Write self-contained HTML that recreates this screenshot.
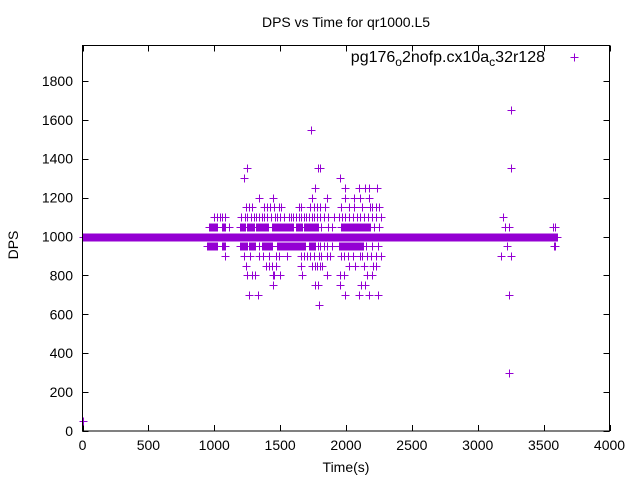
<!DOCTYPE html>
<html><head><meta charset="utf-8"><style>
body{margin:0;background:#fff}
svg{display:block;font-family:"Liberation Sans",sans-serif}
</style></head><body>
<svg id="chart" width="640" height="480" viewBox="0 0 640 480">
<rect x="0" y="0" width="640" height="480" fill="#fff"/>
<text x="346" y="27" font-size="14" text-anchor="middle">DPS vs Time for qr1000.L5</text>
<text x="346" y="472" font-size="14" text-anchor="middle">Time(s)</text>
<text transform="translate(18,245) rotate(-90)" font-size="14" text-anchor="middle">DPS</text>
<g id="axes"></g>
<g id="marks" stroke="#9400d3" stroke-width="1" fill="none"></g>
<g>
<text x="545" y="62" font-size="16" text-anchor="end">pg176<tspan font-size="12" dy="4">o</tspan><tspan dy="-4">2nofp.cx10a</tspan><tspan font-size="12" dy="4">c</tspan><tspan dy="-4">32r128</tspan></text>
<path d="M570.5 57.5h8M574.5 53.5v8" stroke="#9400d3"/>
</g>
<rect x="82.5" y="45.5" width="527" height="385.5" fill="none" stroke="#000"/>
</svg>
<script>
const xTicks=[0,500,1000,1500,2000,2500,3000,3500,4000];
const yTicks=[0,200,400,600,800,1000,1200,1400,1600,1800];
const bandValue=1000;
const bandRange=[0,3600];
const runs1050=[[959,1022],[1060,1085],[1199,1237],[1250,1300],[1320,1414],[1435,1604],[1618,1668],[1680,1794],[1960,2000],[2010,2186]];
const runs950=[[946,1022],[1060,1085],[1199,1250],[1262,1313],[1364,1440],[1477,1693],[1718,1768],[1946,2135],[3575,3590]];
const row1050=[1110,1810,1860,1895,2210,2250,3210,3240,3570,3590];
const row950=[1340,1720,1790,1800,1830,1855,1895,2150,2200,2240,3220];
const row1100=[995,1020,1040,1060,1085,1200,1230,1250,1280,1300,1320,1340,1360,1380,1400,1430,1460,1480,1500,1528,1566,1580,1600,1620,1640,1660,1680,1700,1720,1740,1760,1780,1800,1830,1860,1907,1945,1970,1990,2020,2050,2080,2110,2140,2170,2200,2230,2262,3188];
const row1150=[1240,1260,1290,1380,1400,1420,1450,1490,1510,1640,1660,1730,1760,1780,1800,1840,1960,2020,2060,2120,2180,2200,2230,2250];
const row1200=[1336,1447,1743,1857,1996,2059,2110,2173];
const row1250=[1768,1996,2097,2148,2173,2236];
const row1300=[1224,1953];
const row1350=[1250,1786,1801,3249];
const row1550=[1736];
const row1650=[3249];
const row900=[1085,1225,1270,1338,1371,1414,1465,1495,1553,1655,1680,1705,1730,1756,1794,1812,1857,1882,1963,1988,2014,2054,2105,2123,2161,2191,2231,2262,3180,3250];
const row850=[1242,1394,1414,1440,1465,1655,1743,1761,1781,1799,1819,2021,2072,2140,2206,2229];
const row800=[1250,1288,1313,1447,1457,1498,1667,1857,1953,1983,2161,2199];
const row750=[1447,1768,1786,1953,2115,2148];
const row700=[1262,1331,1996,2097,2173,2242,3240];
const row650=[1794];
const row300=[3240];
const row50=[0];
const rows=[[1050,row1050],[950,row950],[1100,row1100],[1150,row1150],[1200,row1200],[1250,row1250],[1300,row1300],[1350,row1350],[1550,row1550],[1650,row1650],[900,row900],[850,row850],[800,row800],[750,row750],[700,row700],[650,row650],[300,row300],[50,row50]];
const runRows=[[1050,runs1050],[950,runs950]];

const X0=82.5,X1=609.5,Y0=431,PX=(X1-X0)/4000,PY=389/2000;
const sx=t=>X0+t*PX, sy=v=>Y0-v*PY;
const NS='http://www.w3.org/2000/svg';
const axes=document.getElementById('axes');
xTicks.forEach(t=>{
  const x=Math.round(sx(t))+0.5;
  const p=document.createElementNS(NS,'path');
  p.setAttribute('d',`M${x} 431v-6M${x} 45.5v6`);p.setAttribute('stroke','#000');
  
  
  axes.appendChild(p);
  const tx=document.createElementNS(NS,'text');
  tx.setAttribute('x',sx(t));tx.setAttribute('y',450);tx.setAttribute('font-size','14');tx.setAttribute('text-anchor','middle');
  tx.textContent=t;
  
  
  axes.appendChild(tx);
});
yTicks.forEach(v=>{
  const y=Math.round(sy(v))+0.5;
  const p=document.createElementNS(NS,'path');
  p.setAttribute('d',`M82.5 ${y}h6M609.5 ${y}h-6`);p.setAttribute('stroke','#000');
  
  
  axes.appendChild(p);
  const tx=document.createElementNS(NS,'text');
  tx.setAttribute('x',73);tx.setAttribute('y',sy(v)+5);tx.setAttribute('font-size','14');tx.setAttribute('text-anchor','end');
  tx.textContent=v;
  
  
  axes.appendChild(tx);
});
const marks=document.getElementById('marks');
let d='';
const plus=(t,v)=>{const x=Math.round(sx(t))+0.5,y=Math.round(sy(v))+0.5;d+=`M${x-4} ${y}h8M${x} ${y-4}v8`;};
for(let t=bandRange[0];t<=bandRange[1];t+=4)plus(t,bandValue);
runRows.forEach(([v,rs])=>rs.forEach(([a,b])=>{for(let t=a;t<=b;t+=5)plus(t,v);}));
rows.forEach(([v,ts])=>ts.forEach(t=>plus(t,v)));
const path=document.createElementNS(NS,'path');
path.setAttribute('d',d);


marks.appendChild(path);
</script>
</body></html>
